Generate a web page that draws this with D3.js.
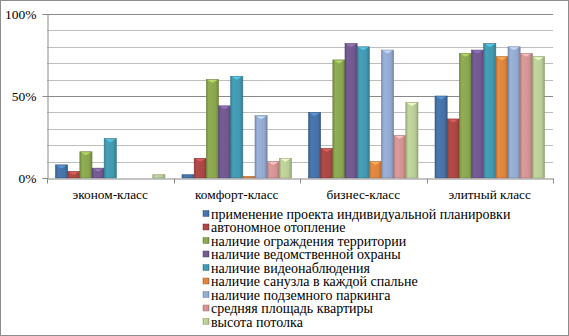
<!DOCTYPE html>
<html>
<head>
<meta charset="utf-8">
<script src="https://cdn.jsdelivr.net/npm/d3@7.9.0/dist/d3.min.js"></script>
<style>
  body { margin: 0; background: #fff; }
</style>
</head>
<body>
<div id="chart"></div>
<script>
// categories (x axis groups)
const categories = ['эконом-класс', 'комфорт-класс', 'бизнес-класс', 'элитный класс'];

// series names (legend)
const seriesNames = [
  'применение проекта индивидуальной планировки',
  'автономное отопление',
  'наличие ограждения территории',
  'наличие ведомственной охраны',
  'наличие видеонаблюдения',
  'наличие санузла  в каждой спальне',
  'наличие подземного паркинга',
  'средняя площадь квартиры',
  'высота потолка'
];

// values in %, one array per series, order = categories
const planning   = [8, 2, 40, 50];
const heating    = [4, 12, 18, 36];
const fence      = [16, 60, 72, 76];
const guard      = [6, 44, 82, 78];
const video      = [24, 62, 80, 82];
const bathroom   = [0, 1, 10, 74];
const parking    = [0, 38, 78, 80];
const area       = [0, 10, 26, 76];
const ceiling    = [2, 12, 46, 74];

const seriesValues = [planning, heating, fence, guard, video, bathroom, parking, area, ceiling];

const yTicks = [0, 50, 100];

const colors = ['#4572A7', '#AA4643', '#89A54E', '#71588F', '#4198AF',
                '#DB843D', '#93A9CF', '#D19392', '#B9CD96'];

const width = 569;
const height = 336;
const plot = { left: 47, right: 553, top: 14, bottom: 178 };
const font = '"Liberation Serif"';

const svg = d3.select('#chart')
  .append('svg')
  .attr('width', width)
  .attr('height', height);

// gradients for the bevel look
const defs = svg.append('defs');
colors.forEach((c, i) => {
  const g = defs.append('linearGradient')
    .attr('id', 'grad' + i)
    .attr('x1', '0%').attr('x2', '100%')
    .attr('y1', '0%').attr('y2', '0%');
  const base = d3.color(c);
  g.append('stop').attr('offset', '0%').attr('stop-color', base.darker(0.5));
  g.append('stop').attr('offset', '20%').attr('stop-color', base.brighter(0.15));
  g.append('stop').attr('offset', '75%').attr('stop-color', base);
  g.append('stop').attr('offset', '100%').attr('stop-color', base.darker(0.6));
});

// outer border
svg.append('rect')
  .attr('x', 0.5).attr('y', 0.5)
  .attr('width', width - 1).attr('height', height - 1)
  .attr('fill', 'none')
  .attr('stroke', '#8c8c8c');

const x0 = d3.scaleBand()
  .domain(categories)
  .range([plot.left, plot.right]);

const x1 = d3.scaleBand()
  .domain(d3.range(seriesNames.length))
  .range([0, x0.bandwidth()])
  .paddingOuter(0.7)
  .paddingInner(0);

const y = d3.scaleLinear().domain([0, 100]).range([plot.bottom, plot.top]);

// gridlines every 10%
svg.append('g')
  .attr('class', 'gridlines')
  .selectAll('line')
  .data(d3.range(10, 101, 10))
  .join('line')
  .attr('x1', plot.left).attr('x2', plot.right)
  .attr('y1', d => Math.round(y(d)) + 0.5)
  .attr('y2', d => Math.round(y(d)) + 0.5)
  .attr('stroke', d => d % 50 === 0 ? '#8a8a8a' : '#bdbdbd');

// bars
const groups = svg.append('g')
  .selectAll('g')
  .data(categories)
  .join('g')
  .attr('transform', d => `translate(${x0(d)},0)`);

groups.selectAll('rect')
  .data((d, ci) => seriesValues.map((vals, si) => ({ si, v: vals[ci] })).filter(d => d.v > 0))
  .join('rect')
  .attr('x', d => x1(d.si))
  .attr('y', d => y(d.v))
  .attr('width', x1.bandwidth())
  .attr('height', d => y(0) - y(d.v))
  .attr('fill', d => `url(#grad${d.si})`)
  .attr('stroke', d => d3.color(colors[d.si]).darker(0.7))
  .attr('stroke-width', 0.6);

// small top highlight on each bar
groups.selectAll('path.cap')
  .data((d, ci) => seriesValues.map((vals, si) => ({ si, v: vals[ci] })).filter(d => d.v > 2))
  .join('path')
  .attr('class', 'cap')
  .attr('d', d => {
    const xl = x1(d.si), w = x1.bandwidth(), t = y(d.v);
    return `M${xl + 1},${t + 0.5} L${xl + w - 1},${t + 0.5} L${xl + w / 2},${t + 3.5} Z`;
  })
  .attr('fill', d => d3.color(colors[d.si]).brighter(0.9))
  .attr('opacity', 0.8);

// y axis
const yg = svg.append('g')
  .attr('transform', `translate(${plot.left + 0.5},0)`)
  .call(d3.axisLeft(y).tickValues(yTicks).tickFormat(d => d + '%').tickSize(5).tickPadding(6));
yg.select('.domain').attr('stroke', '#8a8a8a');
yg.selectAll('.tick line').attr('stroke', '#8a8a8a');
yg.selectAll('.tick text')
  .style('font-family', font)
  .style('font-size', '13.5px')
  .attr('fill', '#000');

// x axis
const xg = svg.append('g')
  .attr('transform', `translate(0,${plot.bottom + 0.5})`)
  .call(d3.axisBottom(x0).tickSize(0).tickPadding(11));
xg.select('.domain').attr('stroke', '#8a8a8a');
xg.selectAll('.tick text')
  .style('font-family', font)
  .style('font-size', '13.3px')
  .attr('fill', '#000');

// category boundary ticks
xg.selectAll('line.sep')
  .data(categories.map(c => x0(c)).concat([plot.right]))
  .join('line')
  .attr('class', 'sep')
  .attr('x1', d => Math.round(d) + 0.5).attr('x2', d => Math.round(d) + 0.5)
  .attr('y1', 0).attr('y2', 5)
  .attr('stroke', '#8a8a8a');

// legend
const legend = svg.append('g')
  .attr('transform', 'translate(203,214)');

const items = legend.selectAll('g')
  .data(seriesNames)
  .join('g')
  .attr('transform', (d, i) => `translate(0,${i * 13.5})`);

items.append('rect')
  .attr('x', 0).attr('y', -3.5)
  .attr('width', 6).attr('height', 6)
  .attr('fill', (d, i) => `url(#grad${i})`)
  .attr('stroke', (d, i) => d3.color(colors[i]).darker(0.7))
  .attr('stroke-width', 0.5);

items.append('text')
  .attr('x', 8)
  .attr('y', 0)
  .attr('dy', '0.35em')
  .style('font-family', font)
  .style('font-size', '14px')
  .attr('fill', '#000')
  .text(d => d);
</script>
</body>
</html>
